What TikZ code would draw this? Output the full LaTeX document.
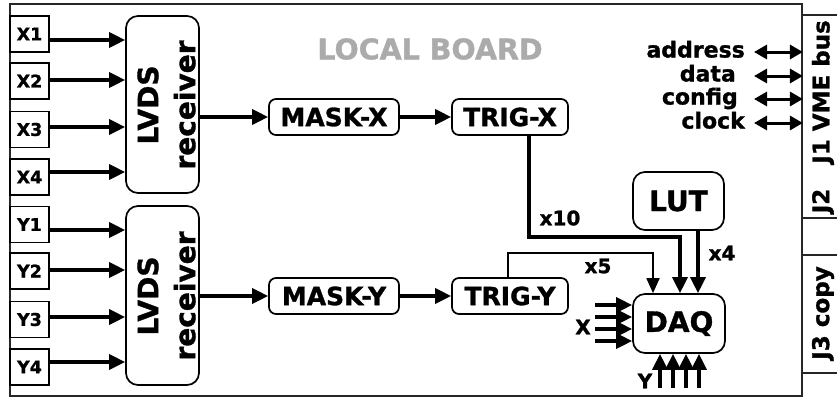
\documentclass[tikz,border=0pt]{standalone}
\usepackage{fontspec}
\setmainfont{DejaVu Sans}[BoldFeatures={FakeBold=1.2}]
\usetikzlibrary{arrows.meta,calc}
\begin{document}
\begin{tikzpicture}[x=1pt,y=-1pt,
  fs/.style={font=\fontsize{#1}{#1}\selectfont\bfseries},
  frameline/.style={line width=1.8pt,draw=black!85},
  inbox/.style={draw,line width=1.7pt,inner sep=0pt,minimum width=39pt,minimum height=36pt,fs=17.5},
  rxbox/.style={draw,line width=1.7pt,rounded corners=12pt,minimum width=73pt,inner sep=0pt},
  rxtext/.style={rotate=90,align=center,font=\fontsize{28}{37}\selectfont\bfseries},
  blk/.style={draw,line width=1.7pt,rounded corners=7pt,inner sep=0pt,minimum height=36pt,fs=25},
  bigblk/.style={draw,line width=1.7pt,rounded corners=12pt,inner sep=0pt,minimum width=91pt,fs=28},
  arr/.style={line width=3.5pt,-{Triangle[length=16pt,width=15pt]}},
  thinarr/.style={line width=1.8pt,-{Triangle[length=15pt,width=13pt]}},
  busarr/.style={line width=3pt,{Triangle[length=13pt,width=14pt]}-{Triangle[length=13pt,width=14pt]}},
  buslbl/.style={anchor=east,inner sep=0pt,text height=15pt,text depth=4pt,fs=22},
  tag/.style={inner sep=0pt,fs=20},
  striptext/.style={rotate=90,inner sep=0pt,fs=23},
]
\useasboundingbox (0,0) rectangle (837,397);

% board outline and connector strip
\node[frameline,draw,minimum width=792pt,minimum height=392pt,inner sep=0pt] (board) at (406,200) {};
\coordinate (stripend) at (837,0);
\foreach \yy in {15,218,255,373}
  \draw[frameline] (board.east |- 0,\yy) -- (stripend |- 0,\yy);

\node[text=black!33,fs=28.5] (title) at (430,49) {LOCAL BOARD};

% LVDS receivers
\node[rxbox,minimum height=177pt] (LX) at (162.5,104.5) {};
\node[rxtext] (LXt) at (166.5,105) {LVDS\\receiver};
\node[rxbox,minimum height=179pt] (LY) at (162.5,295.5) {};
\node[rxtext] (LYt) at (166.5,296) {LVDS\\receiver};

% inputs
\foreach \n/\yc/\ya/\rx in {X1/34/40/LX, X2/81/80/LX, X3/129.5/127/LX, X4/177/172/LX,
                            Y1/224.5/230/LY, Y2/271/270/LY, Y3/319.5/317/LY, Y4/367/362/LY} {
  \node[inbox] (\n) at (29.5,\yc) {\n};
  \coordinate (\n a) at (\n.east |- 0,\ya);
  \draw[arr] (\n a) -- (\n a -| \rx.west);
}

% mask and trigger blocks
\node[blk,minimum width=130pt] (MX) at (334,117) {MASK-X};
\node[blk,minimum width=116pt] (TX) at (510,117) {TRIG-X};
\node[blk,minimum width=130pt] (MY) at (334,296) {MASK-Y};
\node[blk,minimum width=116pt] (TY) at (510,296) {TRIG-Y};

\draw[arr] (LX.east |- MX.west) -- (MX.west);
\draw[arr] (MX) -- (TX);
\draw[arr] (LY.east |- MY.west) -- (MY.west);
\draw[arr] (MY) -- (TY);

% LUT and DAQ
\node[bigblk,minimum height=58pt] (LUT) at (678.5,201) {LUT};
\node[bigblk,minimum width=92pt,minimum height=59pt] (DAQ) at (679,323.5) {DAQ};

\coordinate (kx) at (529,237);
\draw[arr] ([xshift=19pt]TX.south) -- (kx) -| ([xshift=1pt]DAQ.north);
\coordinate (ky) at (508,253);
\draw[thinarr] ([xshift=-2pt]TY.north) -- (ky) -| ([xshift=-26pt]DAQ.north);
\draw[arr] ([xshift=19.5pt]LUT.south) -- ([xshift=19.5pt]LUT.south |- DAQ.north);

\node[tag] (t10) at (560,218) {x10};
\node[tag] (t5) at (598,266) {x5};
\node[tag] (t4) at (722,253) {x4};

% direct X and Y lines into DAQ
\foreach \yy in {305,317,329,341} {
  \coordinate (xi\yy) at (595,\yy);
  \draw[arr] (xi\yy) -- (xi\yy -| DAQ.west);
}
\foreach \xx in {660,673,686,699} {
  \coordinate (yi\xx) at (\xx,388);
  \draw[arr] (yi\xx) -- (yi\xx |- DAQ.south);
}
\node[tag] (xl) at (583,327) {X};
\node[tag] (yl) at (645,381) {Y};

% VME bus signals
\coordinate (bs) at (754,0);
\foreach \nm/\txt/\xr/\yy in {addr/address/745/52, dat/data/736/76, cfg/config/738/99, clk/clock/745/123} {
  \node[buslbl] (\nm) at (\xr,\yy) {\txt};
  \coordinate (\nm s) at (bs |- 0,\yy);
  \draw[busarr] (\nm s) -- (\nm s -| board.east);
}

% connector labels
\node[striptext] (j1) at (823,92) {J1 VME bus};
\node[striptext] (j2) at (823,201) {J2};
\node[striptext] (j3) at (823,313) {J3 copy};
\end{tikzpicture}
\end{document}
